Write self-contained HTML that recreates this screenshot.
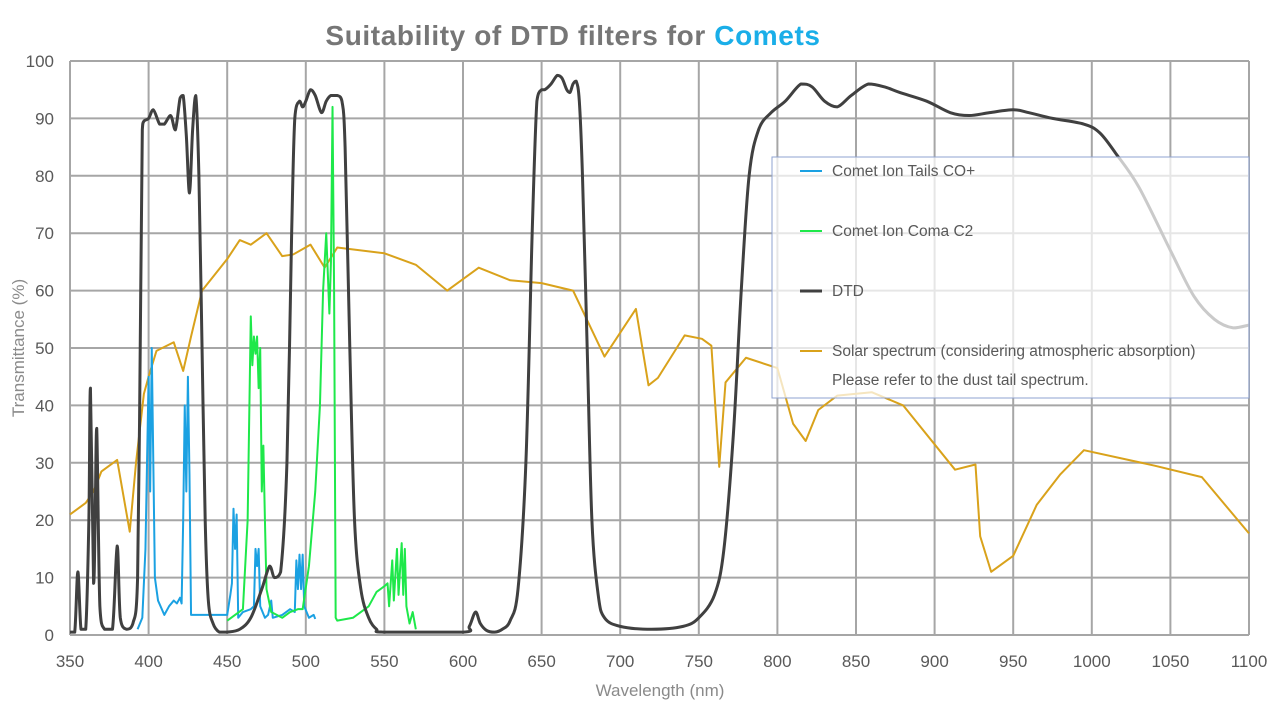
<!DOCTYPE html>
<html><head><meta charset="utf-8">
<style>
html,body{margin:0;padding:0;background:#fff;}
svg text{font-family:"Liberation Sans","Noto Sans CJK JP",sans-serif;}
</style></head>
<body>
<svg id="chart" width="1280" height="714" viewBox="0 0 1280 714" xmlns="http://www.w3.org/2000/svg">
<text x="573" y="45" text-anchor="middle" font-size="28" font-weight="bold" letter-spacing="0.6" fill="#767676">Suitability of DTD filters for <tspan fill="#1aaee8">Comets</tspan></text>
<g id="grid"></g>
<g id="series"></g>
<g id="legend">
<rect x="772" y="157" width="477" height="241" fill="rgba(255,255,255,0.72)" stroke="#8fa3d0" stroke-width="1"/>
<line x1="800" y1="171" x2="822" y2="171" stroke="#1ba1e2" stroke-width="2"/>
<text x="832" y="176" font-size="15.5" fill="#595959">Comet Ion Tails CO+</text>
<line x1="800" y1="231" x2="822" y2="231" stroke="#1ee84a" stroke-width="2"/>
<text x="832" y="236" font-size="15.5" fill="#595959">Comet Ion Coma C2</text>
<line x1="800" y1="291" x2="822" y2="291" stroke="#404040" stroke-width="3"/>
<text x="832" y="296" font-size="15.5" fill="#595959">DTD</text>
<line x1="800" y1="351" x2="822" y2="351" stroke="#d9a21b" stroke-width="2"/>
<text x="832" y="356" font-size="15.5" fill="#595959">Solar spectrum (considering atmospheric absorption)</text>
<text x="832" y="385" font-size="15.5" fill="#595959">Please refer to the dust tail spectrum.</text>
</g>
<text x="660" y="696" text-anchor="middle" font-size="17" fill="#8a8a8a">Wavelength (nm)</text>
<text x="0" y="0" transform="translate(24,348) rotate(-90)" text-anchor="middle" font-size="17" fill="#8a8a8a">Transmittance (%)</text>
</svg>
<script>
const xTicks=[350,400,450,500,550,600,650,700,750,800,850,900,950,1000,1050,1100];
const yTicks=[0,10,20,30,40,50,60,70,80,90,100];
const dtdX=[350,353,355,357,360,362,363,365,366,367,369,372,377,380,382,386,390,393,395,396,397,400,403,407,410,414,417,420,422,424,426,428,430,432,434,436,438,441,445,450,458,465,472,477,480,484,488,491,493,496,498,500,503,506,510,513,516,520,523,525,528,531,535,540,545,550,600,604,608,611,615,620,625,630,635,640,644,647,650,652,656,660,663,666,668,670,672,674,676,679,682,686,690,700,720,740,750,760,766,772,777,782,788,796,805,815,822,830,838,847,858,868,878,895,910,922,935,950,960,975,995,1005,1015,1030,1050,1065,1078,1090,1100];
const dtdY=[0.5,0.5,11,1,1,20,43,9,20,36,5,1,1,15.5,3,1,2,10,60,88,89.5,90,91.5,89,89,90.5,88,93.5,94,87,77,88,94,80,50,20,6,2,0.5,0.5,1,3,8,12,10,11,30,70,90,93,92,93,95,94,91,93,94,94,93,85,50,20,8,3,1,0.5,0.5,1.5,4,2,0.8,0.5,1,2.5,8,30,70,93,95,95,96,97.5,97,95,94.5,96,96.5,93,80,50,20,7,3,1.5,1,1.5,3,7,15,35,60,80,88,91,93,96,95.5,93,92,94,96,95.5,94.5,93,91,90.5,91,91.5,91,90,89,87.5,84,78,67,59,55,53.5,54];
const solarX=[350,360,365,370,380,388,392,397,400,405,416,422,427,434,450,458,465,475,485,492,503,512,520,550,570,590,610,630,650,670,690,710,718,724,741,752,758,763,767,780,800,810,818,826,838,860,880,913,926,929,936,950,965,980,995,1040,1070,1100];
const solarY=[21,23,25,28.5,30.5,18,30,42,45,49.5,51,46,52,60,65.5,68.8,68,70,66,66.3,68,64,67.5,66.5,64.5,60,64,61.8,61.3,60,48.5,56.8,43.5,44.8,52.2,51.6,50.4,29.3,44,48.3,46.5,36.8,33.8,39.2,41.7,42.3,40,28.8,29.7,17.2,11,13.8,22.7,28,32.2,29.5,27.5,17.7];
const coX=[393,396,398,400,401,402,403,404,406,410,413,416,418,420,421,422,423,424,425,426,427,430,440,450,452,453,454,455,456,457,460,465,467,468,469,470,471,474,476,478,479,485,490,493,494,495,496,497,498,499,502,505,506];
const coY=[1,3,15,45,25,50,30,10,6,3.5,5,6,5.5,6.5,5.5,20,40,25,45,28,3.5,3.5,3.5,3.5,7,9,22,15,21,3,4,4.5,5,15,12,15,5,3,3.5,6,3,3.5,4.5,4,13,8,14,8,14,5,3,3.5,2.8];
const c2X=[450,455,460,463,465,466,467,468,469,470,471,472,473,474,475,478,485,490,495,498,502,506,509,511,513,515,516,517,518,519,520,530,540,545,550,552,553,555,556,558,559,561,562,563,564,566,568,570];
const c2Y=[2.5,3.5,4.5,20,55.5,47,52,49,52,43,50,25,33,20,8,4,3,4,4.5,4.5,12,25,40,60,70,56,65,92,60,3,2.5,3,5,7.5,8.5,9,5,13,6,15,7,16,7,15,5,2,4,1];

const NS='http://www.w3.org/2000/svg';
const L=70,R=1249,T=61,B=635;
function xs(v){return L+(v-350)/(1100-350)*(R-L);}
function ys(v){return B-v/100*(B-T);}
const grid=document.getElementById('grid');
const svg=document.getElementById('chart');
xTicks.forEach(t=>{
  const l=document.createElementNS(NS,'line');
  
  
  l.setAttribute('x1',xs(t));l.setAttribute('x2',xs(t));l.setAttribute('y1',T);l.setAttribute('y2',B);
  l.setAttribute('stroke','#a6a6a6');l.setAttribute('stroke-width','2');
  grid.appendChild(l);
  const tx=document.createElementNS(NS,'text');
  
  
  tx.setAttribute('x',xs(t));tx.setAttribute('y',667);tx.setAttribute('text-anchor','middle');
  tx.setAttribute('font-size','17');tx.setAttribute('fill','#595959');
  tx.textContent=t;grid.appendChild(tx);
});
yTicks.forEach(t=>{
  const l=document.createElementNS(NS,'line');
  
  
  l.setAttribute('x1',L);l.setAttribute('x2',R);l.setAttribute('y1',ys(t));l.setAttribute('y2',ys(t));
  l.setAttribute('stroke','#a6a6a6');l.setAttribute('stroke-width','2');
  grid.appendChild(l);
  const tx=document.createElementNS(NS,'text');
  
  
  tx.setAttribute('x',54);tx.setAttribute('y',ys(t)+6);tx.setAttribute('text-anchor','end');
  tx.setAttribute('font-size','17');tx.setAttribute('fill','#595959');
  tx.textContent=t;grid.appendChild(tx);
});
const sg=document.getElementById('series');
function clamp(v,a,b){const lo=Math.min(a,b),hi=Math.max(a,b);return Math.max(lo,Math.min(hi,v));}
function addLine(xa,ya,color,w,name,smooth){
  const p=document.createElementNS(NS,'path');
  let d='';
  const pts=xa.map((x,i)=>[xs(x),ys(ya[i])]);
  if(smooth){
    d='M'+pts[0][0]+','+pts[0][1];
    for(let i=0;i<pts.length-1;i++){
      const p0=pts[i-1]||pts[i],p1=pts[i],p2=pts[i+1],p3=pts[i+2]||p2;
      const c1x=p1[0]+(p2[0]-p0[0])/6,c1y=clamp(p1[1]+(p2[1]-p0[1])/6,p1[1],p2[1]);
      const c2x=p2[0]-(p3[0]-p1[0])/6,c2y=clamp(p2[1]-(p3[1]-p1[1])/6,p1[1],p2[1]);
      d+=' C'+c1x+','+c1y+' '+c2x+','+c2y+' '+p2[0]+','+p2[1];
    }
  } else d='M'+pts.map(p=>p.join(',')).join(' L');
  p.setAttribute('d',d);
  p.setAttribute('fill','none');p.setAttribute('stroke',color);p.setAttribute('stroke-width',w);
  p.setAttribute('stroke-linejoin','round');
  
  
  sg.appendChild(p);
}
addLine(solarX,solarY,'#d9a21b',2,'solar-spectrum-line',false);
addLine(coX,coY,'#1ba1e2',2,'co-plus-line',false);
addLine(c2X,c2Y,'#1ee84a',2,'c2-line',false);
addLine(dtdX,dtdY,'#404040',3,'dtd-line',true);
svg.appendChild(document.getElementById('legend'));
</script>
</body></html>
